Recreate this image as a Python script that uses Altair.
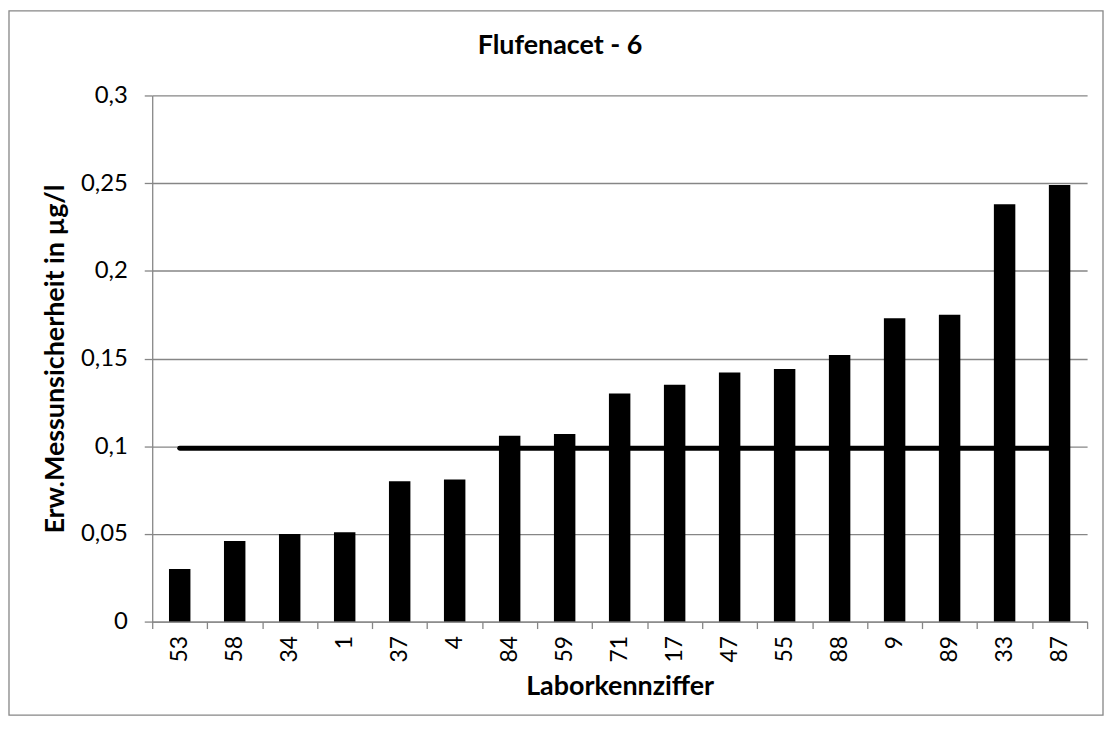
import altair as alt
import pandas as pd

# --- data ---
labs = ["53", "58", "34", "1", "37", "4", "84", "59", "71",
        "17", "47", "55", "88", "9", "89", "33", "87"]
values = [0.030, 0.046, 0.050, 0.051, 0.080, 0.081, 0.106, 0.107, 0.130,
          0.135, 0.142, 0.144, 0.152, 0.173, 0.175, 0.238, 0.249]
ref_value = 0.0988
y_ticks = [0, 0.05, 0.1, 0.15, 0.2, 0.25, 0.3]

df = pd.DataFrame({"Labor": labs, "U": values, "Ref": [ref_value] * len(labs)})
frame_df = pd.DataFrame({"k": [0]})

W, H = 940, 529
PAD_L, PAD_T, PAD_R, PAD_B = 145, 86, 17, 95
GREY = "#868686"
FONT = "Lato"

x_enc = alt.X(
    "Labor:N",
    sort=labs,
    title="Laborkennziffer",
    scale=alt.Scale(paddingInner=0, paddingOuter=0),
    axis=alt.Axis(
        labelAngle=-90,
        tickBand="extent",
        tickSize=7,
        tickColor=GREY,
        tickWidth=1.3,
        domainColor=GREY,
        domainWidth=1.3,
        grid=False,
        labelFont=FONT,
        labelFontSize=23,
        labelColor="black",
        labelPadding=7,
        titleFont=FONT,
        titleFontSize=27,
        titleFontWeight="bold",
        titleColor="black",
        titleX=W / 2,
        titleY=73,
        titleBaseline="alphabetic",
    ),
)

y_enc = alt.Y(
    "U:Q",
    title="Erw.Messunsicherheit in µg/l",
    scale=alt.Scale(domain=[0, 0.3], nice=False, zero=True),
    axis=alt.Axis(
        values=y_ticks,
        labelExpr="replace(format(datum.value, '~g'), '.', ',')",
        grid=True,
        gridColor=GREY,
        gridWidth=1.3,
        domainColor=GREY,
        domainWidth=1.3,
        tickColor=GREY,
        tickWidth=1.3,
        tickSize=8,
        labelFont=FONT,
        labelFontSize=24,
        labelColor="black",
        labelPadding=17,
        titleFont=FONT,
        titleFontSize=27,
        titleFontWeight="bold",
        titleColor="black",
        titleAngle=-90,
        titleX=-89,
        titleY=H / 2,
        titleAlign="center",
        titleBaseline="alphabetic",
    ),
)

bars = alt.Chart(df).mark_bar(color="black", width={"band": 0.39}).encode(
    x=x_enc, y=y_enc
)

line = alt.Chart(df).mark_line(
    color="black", strokeWidth=5, strokeCap="round"
).encode(x=alt.X("Labor:N", sort=labs), y=alt.Y("Ref:Q"))

frame = alt.Chart(frame_df).mark_rect(
    fill=None, stroke=GREY, strokeWidth=1.3
).encode(
    x=alt.value(-PAD_L + 1),
    x2=alt.value(W + PAD_R - 1),
    y=alt.value(-PAD_T + 1),
    y2=alt.value(H + PAD_B - 1),
)

chart = alt.layer(bars, line, frame).properties(
    width=W,
    height=H,
    padding={"left": PAD_L, "top": PAD_T, "right": PAD_R, "bottom": PAD_B},
    autosize=alt.AutoSizeParams(type="none"),
    background="white",
    title=alt.TitleParams(
        "Flufenacet - 6",
        font=FONT,
        fontSize=27,
        fontWeight="bold",
        color="black",
        anchor="middle",
        dx=-60,
        dy=72,
        offset=22,
    ),
).configure_view(stroke=None)

chart.save("out.html", embed_options={"renderer": "svg", "actions": False})
